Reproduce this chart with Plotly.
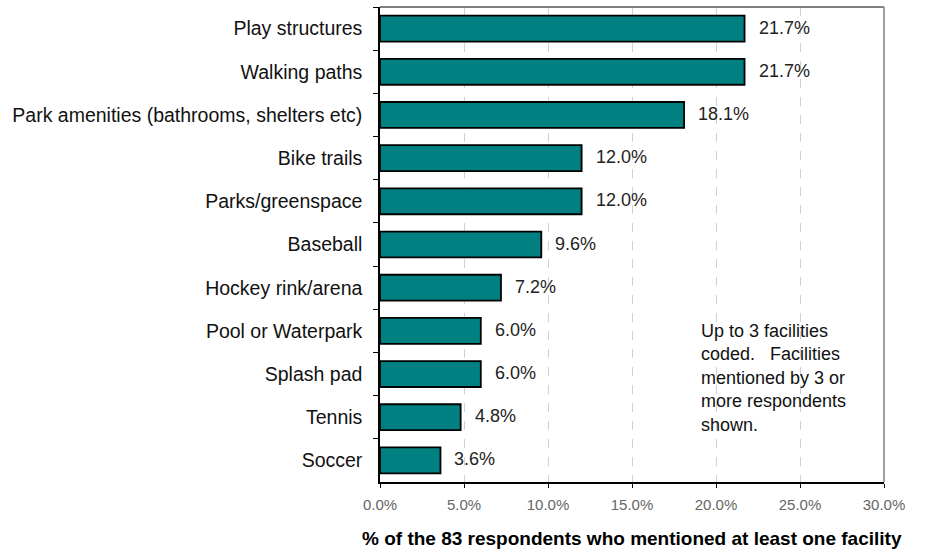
import plotly.graph_objects as go

categories = [
    "Play structures",
    "Walking paths",
    "Park amenities (bathrooms, shelters etc)",
    "Bike trails",
    "Parks/greenspace",
    "Baseball",
    "Hockey rink/arena",
    "Pool or Waterpark",
    "Splash pad",
    "Tennis",
    "Soccer",
]
percentages = [21.7, 21.7, 18.1, 12.0, 12.0, 9.6, 7.2, 6.0, 6.0, 4.8, 3.6]
tick_values = [0, 5, 10, 15, 20, 25, 30]
tick_labels = ["0.0%", "5.0%", "10.0%", "15.0%", "20.0%", "25.0%", "30.0%"]
note_text = "Up to 3 facilities<br>coded.   Facilities<br>mentioned by 3 or<br>more respondents<br>shown."
axis_title = "% of the 83 respondents who mentioned at least one facility"

FONT = "Liberation Sans, Arial, sans-serif"

fig = go.Figure(
    go.Bar(
        x=percentages,
        y=categories,
        orientation="h",
        marker=dict(color="#008080", line=dict(color="#000000", width=1.8)),
        hoverinfo="x+y",
    )
)

# value labels just past the end of each bar
for cat, val in zip(categories, percentages):
    fig.add_annotation(
        x=val, y=cat, text=f"{val:.1f}%", showarrow=False,
        xanchor="left", xshift=12, yshift=1,
        font=dict(family=FONT, size=18, color="#222222"),
    )

# explanatory note in the lower right of the plot
fig.add_annotation(
    x=19.0, y=0.095, xref="x", yref="paper",
    text=note_text,
    showarrow=False, align="left", xanchor="left", yanchor="bottom",
    font=dict(family=FONT, size=18, color="#111111"),
)

# x-axis title below the tick labels
fig.add_annotation(
    x=0.5, y=-0.118, xref="paper", yref="paper",
    text=f"<b>{axis_title}</b>", showarrow=False,
    xanchor="center", yanchor="middle",
    font=dict(family=FONT, size=19, color="#000000"),
)

# grey top and right frame lines
fig.add_shape(type="line", xref="paper", yref="paper", x0=0, x1=1, y0=1, y1=1,
              line=dict(color="#808080", width=2))
fig.add_shape(type="line", xref="paper", yref="paper", x0=1, x1=1, y0=0, y1=1,
              line=dict(color="#808080", width=1.5))

fig.update_layout(
    width=928, height=552,
    margin=dict(l=380, r=44, t=7, b=70),
    paper_bgcolor="white", plot_bgcolor="white",
    bargap=0.4,
    showlegend=False,
    font=dict(family=FONT),
    xaxis=dict(
        range=[0, 30],
        tickvals=tick_values, ticktext=tick_labels,
        tickfont=dict(family=FONT, size=15, color="#666666"),
        showgrid=True, gridcolor="#d0d0d0", griddash="dash", gridwidth=1,
        showline=True, linecolor="#000000", linewidth=1.5,
        ticks="outside", ticklen=4, tickcolor="#000000", tickwidth=1,
        ticklabelstandoff=4,
        zeroline=False,
    ),
    yaxis=dict(
        type="category",
        categoryorder="array", categoryarray=categories,
        autorange="reversed",
        tickfont=dict(family=FONT, size=19.5, color="#111111"),
        showline=True, linecolor="#000000", linewidth=1.5,
        ticks="outside", ticklen=5, tickcolor="#000000", tickwidth=1,
        tickson="boundaries",
        ticklabelstandoff=12,
        showgrid=False, zeroline=False,
    ),
)

fig.write_html("out.html")
